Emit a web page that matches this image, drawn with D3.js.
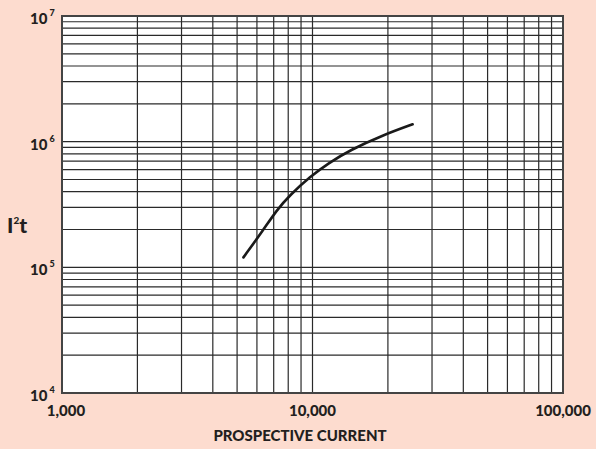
<!DOCTYPE html>
<html>
<head>
<meta charset="utf-8">
<script src="https://cdn.jsdelivr.net/npm/d3@7"></script>
<style>
  body { margin: 0; background: #fddccf; }
  svg { display: block; }
</style>
</head>
<body>
<div id="chart"></div>
<script>
// curve
var current = [5300, 6360, 7200, 8130, 9770, 11560, 14120, 19170, 25100];
var energy = [1.20e5, 1.98e5, 2.86e5, 3.76e5, 5.26e5, 6.73e5, 8.58e5, 1.13e6, 1.375e6];

var xTicks = [1000, 10000, 100000];
var xTickLabels = ["1,000", "10,000", "100,000"];
var yExponents = [4, 5, 6, 7];

var width = 596, height = 449;
var margin = {top: 16, right: 33, bottom: 56, left: 62};

var svg = d3.select("#chart").append("svg")
    .attr("width", width)
    .attr("height", height);

var x = d3.scaleLog().domain([1000, 100000]).range([margin.left, width - margin.right]);
var y = d3.scaleLog().domain([1e4, 1e7]).range([height - margin.bottom, margin.top]);

// plot background
svg.append("rect")
    .attr("x", x.range()[0]).attr("y", y.range()[1])
    .attr("width", x.range()[1] - x.range()[0])
    .attr("height", y.range()[0] - y.range()[1])
    .attr("fill", "#fff");

// grid lines, every 1..9 per decade
var xGrid = [], yGrid = [];
for (var d = 1000; d < 100000; d *= 10)
  for (var k = 2; k <= 9; k++) xGrid.push(d * k);
for (var d = 1e4; d < 1e7; d *= 10)
  for (var k = 2; k <= 9; k++) yGrid.push(d * k);
xGrid.push(10000); yGrid.push(1e5, 1e6);

var grid = svg.append("g").attr("stroke", "#2a2a2a").attr("stroke-width", 1.2);
grid.selectAll(".gx").data(xGrid).enter().append("line")
    .attr("x1", function(d) { return x(d); }).attr("x2", function(d) { return x(d); })
    .attr("y1", y.range()[0]).attr("y2", y.range()[1]);
grid.selectAll(".gy").data(yGrid).enter().append("line")
    .attr("y1", function(d) { return y(d); }).attr("y2", function(d) { return y(d); })
    .attr("x1", x.range()[0]).attr("x2", x.range()[1]);

// frame
svg.append("rect")
    .attr("x", x.range()[0]).attr("y", y.range()[1])
    .attr("width", x.range()[1] - x.range()[0])
    .attr("height", y.range()[0] - y.range()[1])
    .attr("fill", "none").attr("stroke", "#444").attr("stroke-width", 2);

// curve
var pts = current.map(function(c, i) { return [c, energy[i]]; });
svg.append("path")
    .datum(pts)
    .attr("fill", "none")
    .attr("stroke", "#1a1a1a")
    .attr("stroke-width", 2.6)
    .attr("stroke-linecap", "round")
    .attr("d", d3.line()
      .x(function(d) { return x(d[0]); })
      .y(function(d) { return y(d[1]); })
      .curve(d3.curveBasis));

// y labels 10^n
var yl = svg.append("g")
    .attr("font-family", "Lato, sans-serif")
    .attr("font-weight", 900)
    .attr("fill", "#231f20");
yExponents.forEach(function(e) {
  var t = yl.append("text")
      .attr("x", 30)
      .attr("y", y(Math.pow(10, e)) + 8)
      .attr("font-size", 15);
  t.append("tspan").text("10");
  t.append("tspan").attr("dx", 2).attr("dy", -8).attr("font-size", 9).text(e);
});

// x labels
svg.append("g")
    .attr("font-family", "Lato, sans-serif")
    .attr("font-weight", 900)
    .attr("font-size", 15)
    .attr("fill", "#231f20")
    .attr("text-anchor", "middle")
  .selectAll("text").data(xTicks).enter().append("text")
    .attr("x", function(d, i) { return x(d) + (i === 0 ? 4 : 0); })
    .attr("y", 416)
    .text(function(d, i) { return xTickLabels[i]; });

// axis titles
var yt = svg.append("text")
    .attr("x", 7).attr("y", 233)
    .attr("font-family", "Lato, sans-serif")
    .attr("font-weight", 900)
    .attr("font-size", 21)
    .attr("fill", "#231f20");
yt.append("tspan").text("I");
yt.append("tspan").attr("dy", -9).attr("font-size", 10).text("2");
yt.append("tspan").attr("dy", 9).text("t");

svg.append("text")
    .attr("x", 300).attr("y", 441)
    .attr("text-anchor", "middle")
    .attr("font-family", "Lato, sans-serif")
    .attr("font-weight", 900)
    .attr("font-size", 15)
    .attr("fill", "#231f20")
    .text("PROSPECTIVE CURRENT");
</script>
</body>
</html>
